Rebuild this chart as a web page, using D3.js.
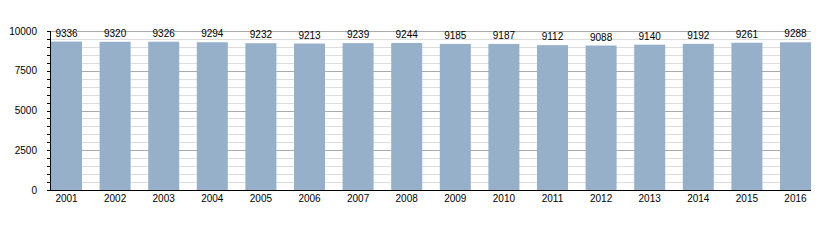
<!DOCTYPE html>
<html><head><meta charset="utf-8">
<script src="https://cdn.jsdelivr.net/npm/d3@7"></script>
<style>body{margin:0;background:#fff}svg{display:block}text{font-family:"Liberation Sans",Arial,sans-serif;font-size:10px;fill:#000}</style>
</head><body>
<script>
const years = ["2001","2002","2003","2004","2005","2006","2007","2008","2009","2010","2011","2012","2013","2014","2015","2016"];
const population = [9336,9320,9326,9294,9232,9213,9239,9244,9185,9187,9112,9088,9140,9192,9261,9288];
const majorTicks = [0,2500,5000,7500,10000];

const W=840,H=240, L=50, R=811, T=31, B=190;
const svg=d3.select("body").append("svg").attr("width",W).attr("height",H);
const x=d3.scaleBand().domain(years).range([L+1,R]).paddingInner(0.362).paddingOuter(0);
const y=d3.scaleLinear().domain([0,10000]).range([B,T]);
const minor=d3.range(500,10000,500).filter(v=>v%2500!==0);

svg.append("g").selectAll("line").data(minor).join("line")
 .attr("x1",L).attr("x2",R).attr("y1",d=>Math.round(y(d))+0.5).attr("y2",d=>Math.round(y(d))+0.5)
 .attr("stroke","#dddddd");
svg.append("g").selectAll("line").data(majorTicks.filter(d=>d>0)).join("line")
 .attr("x1",L).attr("x2",R).attr("y1",d=>Math.round(y(d))+0.5).attr("y2",d=>Math.round(y(d))+0.5)
 .attr("stroke","#aaaaaa");

svg.append("g").selectAll("rect").data(population).join("rect")
 .attr("x",(d,i)=>x(years[i])).attr("width",x.bandwidth())
 .attr("y",d=>y(d)).attr("height",d=>B-y(d)).attr("fill","#97b0ca");

svg.append("g").selectAll("text").data(population).join("text")
 .attr("x",(d,i)=>x(years[i])+x.bandwidth()/2).attr("y",d=>y(d)-5)
 .attr("text-anchor","middle").text(d=>d);

// y axis
const ya=svg.append("g");
ya.append("line").attr("x1",L+0.5).attr("x2",L+0.5).attr("y1",T).attr("y2",B+1).attr("stroke","#000");
ya.selectAll("line.mt").data(d3.range(0,10001,500)).join("line").attr("class","mt")
 .attr("x1",L-3).attr("x2",L).attr("y1",d=>Math.round(y(d))+0.5).attr("y2",d=>Math.round(y(d))+0.5).attr("stroke","#000");
ya.selectAll("text").data(majorTicks).join("text")
 .attr("x",L-13).attr("y",d=>y(d)).attr("dy","0.35em").attr("text-anchor","end").text(d=>d);

// x axis
svg.append("line").attr("x1",L).attr("x2",R).attr("y1",B+0.5).attr("y2",B+0.5).attr("stroke","#000");
svg.append("g").selectAll("text").data(years).join("text")
 .attr("x",d=>x(d)+x.bandwidth()/2).attr("y",B+12).attr("text-anchor","middle").text(d=>d);
</script>
</body></html>
